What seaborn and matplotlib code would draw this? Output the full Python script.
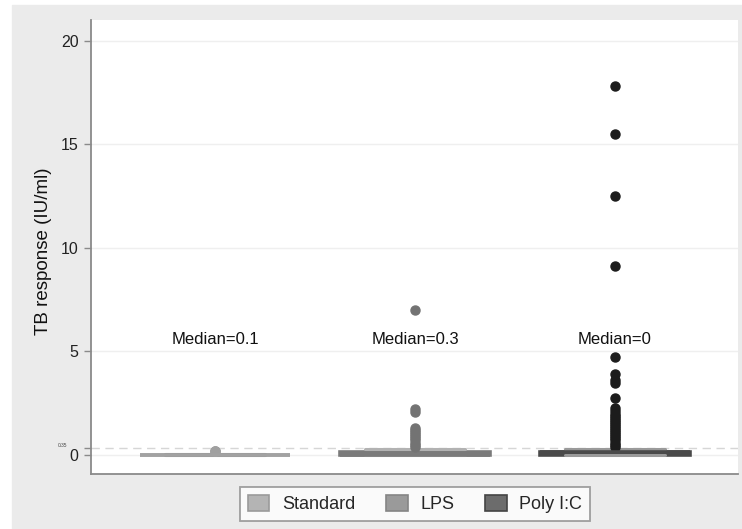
import numpy as np
import pandas as pd
import matplotlib
matplotlib.use("Agg")
import matplotlib.pyplot as plt
from matplotlib.patches import Patch, Rectangle
import matplotlib.transforms as mtransforms
import seaborn as sns

# ---- data ----
categories = ["Standard", "LPS", "Poly I:C"]
median_labels = ["Median=0.1", "Median=0.3", "Median=0"]

standard_values = [0.0, 0.02, 0.04, 0.2]
standard_counts = [40, 15, 5, 3]

lps_values = [0.0, 0.12, 0.28,
              0.4, 0.5, 0.6, 0.7, 0.8, 0.9, 1.0, 1.1, 1.2, 1.3, 2.05, 2.2, 7.0]
lps_counts = [40, 20, 3] + [1] * 13

poly_values = [0.0, 0.12, 0.28,
               0.4, 0.5, 0.6, 0.7, 0.8, 0.9, 1.0, 1.1, 1.2, 1.3, 1.4, 1.5,
               1.6, 1.7, 1.8, 1.9, 2.0, 2.1, 2.25, 2.75, 3.45, 3.6, 3.9,
               4.75, 9.1, 12.5, 15.5, 17.8]
poly_counts = [70, 40, 4] + [1] * 28

y_ticks = [0, 0.35, 5, 10, 15, 20]
y_tick_labels = ["0", "0.35", "5", "10", "15", "20"]

# ---- styling ----
fill_colors = ["#b4b4b4", "#9a9a9a", "#6c6c6c"]
line_colors = ["#a2a2a2", "#7a7a7a", "#4a4a4a"]
cap_colors = ["#8e8e8e", "#b2b2b2", "#9a9a9a"]
flier_colors = ["#a0a0a0", "#737373", "#1c1c1c"]
legend_edges = ["#9a9a9a", "#858585", "#444444"]

frames = []
for cat, vals, cnts in zip(categories,
                           [standard_values, lps_values, poly_values],
                           [standard_counts, lps_counts, poly_counts]):
    frames.append(pd.DataFrame({"group": cat, "value": np.repeat(vals, cnts)}))
df = pd.concat(frames, ignore_index=True)

sns.set_style("white")
plt.rcParams["font.family"] = ["Liberation Sans", "DejaVu Sans"]

fig = plt.figure(figsize=(7.42, 5.29), dpi=100, facecolor="white")
fig.patches.append(Rectangle((12 / 742, 0), 1, (529 - 5) / 529,
                             transform=fig.transFigure, color="#ebebeb",
                             zorder=-10))
ax = fig.add_axes([91 / 742, 1 - 474 / 529, (738 - 91) / 742, (474 - 20) / 529])
ax.set_facecolor("white")

for i, cat in enumerate(categories):
    sub = df[df["group"] == cat]
    sns.boxplot(data=sub, x="group", y="value", order=categories, ax=ax,
                width=0.75, color=fill_colors[i], linecolor=line_colors[i],
                linewidth=2.6, capwidths=0.5,
                capprops=dict(color=cap_colors[i], linewidth=2.2),
                flierprops=dict(marker="o", markerfacecolor=flier_colors[i],
                                markeredgecolor=flier_colors[i],
                                markersize=6.5))
    ax.text(i, 5.55, median_labels[i], ha="center", va="center",
            fontsize=12, color="#111111")

ax.set_xlim(-0.62, 2.615)
ax.set_ylim(-0.92, 21.0)
ax.set_xlabel("")
ax.set_xticks([])
ax.set_yticks(y_ticks)
# the small "0.35" label is drawn separately, just above-left of its tick
ax.set_yticklabels([lab if k != 1 else "" for k, lab in enumerate(y_tick_labels)])
for lab in ax.get_yticklabels():
    lab.set_fontsize(11.5)
    lab.set_color("#222222")
blend = mtransforms.blended_transform_factory(ax.transAxes, ax.transData)
ax.text(-0.036, y_ticks[1], y_tick_labels[1], transform=blend, ha="right",
        va="bottom", fontsize=3.5, color="#444444", clip_on=False)

ax.yaxis.grid(True, color="#efefef", linewidth=1.0)
gls = ax.yaxis.get_gridlines()
gls[1].set_linestyle((0, (6, 4)))
gls[1].set_color("#d6d6d6")
ax.set_axisbelow(True)

ax.tick_params(axis="y", direction="out", length=5, width=1.0,
               color="#8a8a8a", left=True, pad=4)
for s in ["top", "right"]:
    ax.spines[s].set_visible(False)
for s in ["left", "bottom"]:
    ax.spines[s].set_color("#8a8a8a")
    ax.spines[s].set_linewidth(1.3)

ax.set_ylabel("TB response (IU/ml)", fontsize=13.5, color="#111111")
ax.yaxis.set_label_coords(-0.06, 0.49)

handles = [Patch(facecolor=fill_colors[i], edgecolor=legend_edges[i],
                 linewidth=1.2, label=categories[i]) for i in range(3)]
leg = fig.legend(handles=handles, loc="center",
                 bbox_to_anchor=(415 / 742, 1 - 504 / 529), ncol=3,
                 fontsize=13, frameon=True, fancybox=False,
                 handlelength=1.2, handleheight=1.0, handletextpad=0.7,
                 columnspacing=1.7, borderpad=0.45)
leg.get_frame().set_edgecolor("#8a8a8a")
leg.get_frame().set_linewidth(1.3)
leg.get_frame().set_facecolor("white")

fig.savefig("out.png", dpi=100, facecolor=fig.get_facecolor())
